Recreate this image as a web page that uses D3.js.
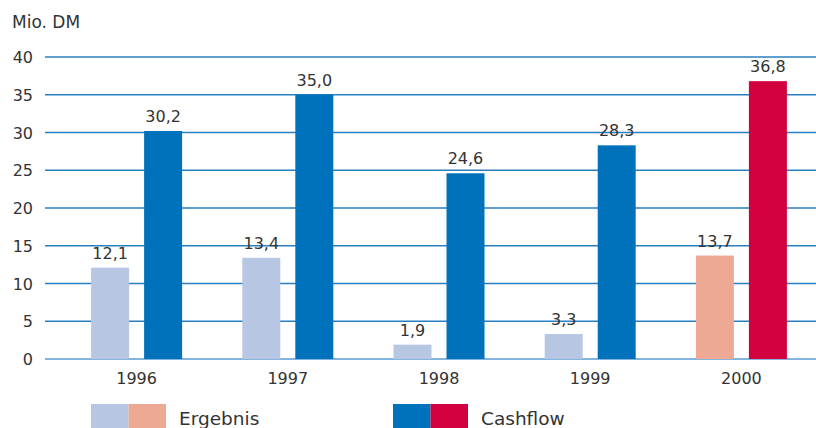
<!DOCTYPE html>
<html>
<head>
    <script src="https://d3js.org/d3.v7.min.js"></script>
    <style>
        body { margin: 0; background: #fff; }
        text { font-family: "DejaVu Sans", sans-serif; fill: #333; }
    </style>
</head>
<body>
    <div id="chart"></div>
    <script>
        var years = ["1996", "1997", "1998", "1999", "2000"];
        var ergebnis = [12.1, 13.4, 1.9, 3.3, 13.7];
        var cashflow = [30.2, 35.0, 24.6, 28.3, 36.8];
        var yTicks = [0, 5, 10, 15, 20, 25, 30, 35, 40];
        var seriesNames = ["Ergebnis", "Cashflow"];

        var width = 816, height = 428;

        var svg = d3.select("#chart")
            .append("svg")
                .attr("width", width)
                .attr("height", height);

        var y = d3.scaleLinear()
            .domain([0, 40])
            .range([359, 57]);

        var x = d3.scaleBand()
            .domain(years)
            .range([61, 817]);

        var xs = d3.scaleBand()
            .domain(seriesNames)
            .range([-45.5, 45.5])
            .paddingInner(0.283);

        // gridlines
        svg.append("g")
            .selectAll("line")
            .data(yTicks)
            .enter()
            .append("line")
                .attr("x1", 45)
                .attr("x2", width)
                .attr("y1", function(d) { return y(d); })
                .attr("y2", function(d) { return y(d); })
                .attr("stroke", function(d) { return d === 0 ? "#5a9bd3" : "#2a7fc0"; })
                .attr("stroke-width", 1.5);

        svg.append("g")
            .selectAll("text")
            .data(yTicks)
            .enter()
            .append("text")
                .attr("x", 33)
                .attr("y", function(d) { return y(d) + 6; })
                .attr("text-anchor", "end")
                .style("font-size", "16px")
                .text(function(d) { return d; });

        svg.append("text")
            .attr("x", 12)
            .attr("y", 28)
            .style("font-size", "17px")
            .text("Mio. DM");

        function colorFor(series, i) {
            var last = i === years.length - 1;
            if (series === "Ergebnis") return last ? "#eda994" : "#b7c6e3";
            return last ? "#d3003f" : "#0072bb";
        }

        var rows = [];
        years.forEach(function(yr, i) {
            rows.push({year: yr, i: i, series: "Ergebnis", value: ergebnis[i]});
            rows.push({year: yr, i: i, series: "Cashflow", value: cashflow[i]});
        });

        svg.append("g")
            .selectAll("rect")
            .data(rows)
            .enter()
            .append("rect")
                .attr("x", function(d) { return x(d.year) + x.bandwidth() / 2 + xs(d.series); })
                .attr("y", function(d) { return y(d.value); })
                .attr("width", xs.bandwidth())
                .attr("height", function(d) { return y(0) - y(d.value); })
                .attr("fill", function(d) { return colorFor(d.series, d.i); });

        svg.append("g")
            .selectAll("text")
            .data(rows)
            .enter()
            .append("text")
                .attr("x", function(d) { return x(d.year) + x.bandwidth() / 2 + xs(d.series) + xs.bandwidth() / 2; })
                .attr("y", function(d) { return y(d.value) - 9; })
                .attr("text-anchor", "middle")
                .style("font-size", "16px")
                .text(function(d) { return d.value.toFixed(1).replace(".", ","); });

        svg.append("g")
            .selectAll("text")
            .data(years)
            .enter()
            .append("text")
                .attr("x", function(d) { return x(d) + x.bandwidth() / 2; })
                .attr("y", 384)
                .attr("text-anchor", "middle")
                .style("font-size", "16px")
                .text(function(d) { return d; });

        // legend
        var legend = [
            {name: "Ergebnis", x: 91, colors: ["#b7c6e3", "#eda994"]},
            {name: "Cashflow", x: 393, colors: ["#0072bb", "#d3003f"]}
        ];
        legend.forEach(function(l) {
            l.colors.forEach(function(c, j) {
                svg.append("rect")
                    .attr("x", l.x + j * 37.5)
                    .attr("y", 404)
                    .attr("width", 37.5)
                    .attr("height", 24)
                    .attr("fill", c);
            });
            svg.append("text")
                .attr("x", l.x + 88)
                .attr("y", 425)
                .style("font-size", "18.5px")
                .text(l.name);
        });
    </script>
</body>
</html>
